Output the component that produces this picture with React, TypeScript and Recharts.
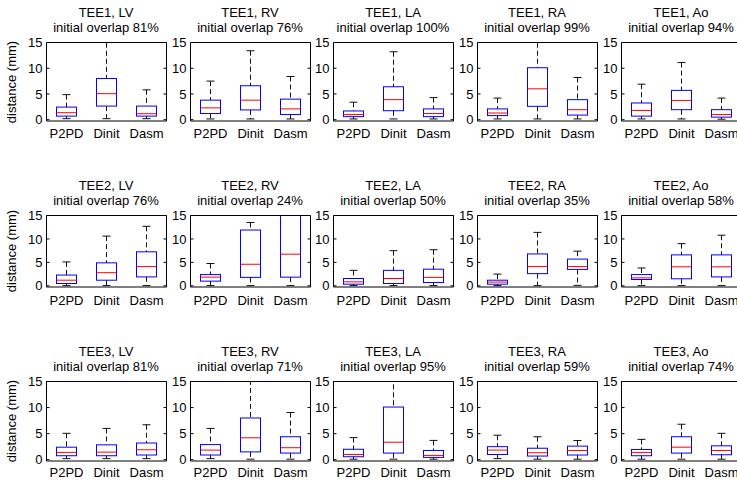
import { ComposedChart, Bar, XAxis, YAxis, ReferenceArea } from "recharts";

const groups = ["P2PD", "Dinit", "Dasm"];
const structures = ["LV", "RV", "LA", "RA", "Ao"];
const datasets = ["TEE1", "TEE2", "TEE3"];

const overlapTEE1 = [81, 76, 100, 99, 94];
const overlapTEE2 = [76, 24, 50, 35, 58];
const overlapTEE3 = [81, 71, 95, 59, 74];

// one box per group: [lower whisker, q1, median, q3, upper whisker] in mm
const boxesTEE1 = [
  [[0.2, 0.7, 1.36, 2.45, 4.87], [0.2, 2.65, 5.06, 8.0, 16.5], [0.2, 0.7, 1.17, 2.65, 5.8]], // LV
  [[0.15, 1.2, 2.3, 3.8, 7.5], [0.15, 1.9, 3.8, 6.6, 13.4], [0.15, 1.0, 2.1, 4.0, 8.4]], // RV
  [[0.15, 0.6, 1.0, 1.7, 3.4], [0.15, 1.75, 3.9, 6.4, 13.2], [0.15, 0.6, 1.2, 2.1, 4.3]], // LA
  [[0.15, 0.8, 1.3, 2.1, 4.2], [0.15, 2.6, 6.0, 10.1, 16.5], [0.15, 0.9, 1.95, 3.9, 8.2]], // RA
  [[0.15, 0.7, 1.8, 3.25, 6.9], [0.15, 1.95, 3.75, 5.7, 11.1], [0.1, 0.5, 1.0, 1.95, 4.2]], // Ao
];
const boxesTEE2 = [
  [[0.05, 0.5, 1.2, 2.3, 5.1], [0.05, 1.2, 2.8, 4.9, 10.6], [0.05, 1.9, 4.1, 7.25, 12.7]],
  [[0.05, 1.0, 1.85, 2.4, 4.76], [0.05, 1.8, 4.6, 11.9, 13.5], [0.05, 1.85, 6.75, 17, 19]],
  [[0.05, 0.35, 0.85, 1.56, 3.3], [0.05, 0.5, 1.56, 3.3, 7.5], [0.05, 0.7, 1.8, 3.55, 7.7]],
  [[0.05, 0.35, 0.8, 1.2, 2.5], [0.05, 2.6, 4.1, 6.8, 11.4], [0.1, 3.5, 4.1, 5.7, 7.4]],
  [[0.05, 1.35, 1.7, 2.4, 3.8], [0.05, 1.5, 4.05, 6.6, 9.0], [0.05, 1.9, 4.05, 6.6, 10.8]],
];
const boxesTEE3 = [
  [[0.2, 0.76, 1.4, 2.4, 5.06], [0.2, 0.76, 1.45, 2.85, 6.0], [0.2, 0.9, 1.9, 3.2, 6.7]],
  [[0.2, 0.9, 1.84, 2.9, 6.0], [0.1, 1.5, 4.2, 8.0, 15.3], [0.1, 1.27, 2.3, 4.4, 9.05]],
  [[0.1, 0.57, 1.0, 2.0, 4.24], [0.1, 1.27, 3.35, 10.1, 16], [0.1, 0.44, 0.82, 1.77, 3.7]],
  [[0.2, 1.0, 1.84, 2.5, 4.7], [0.1, 0.7, 1.33, 2.2, 4.4], [0.1, 0.9, 1.77, 2.6, 3.67]],
  [[0.1, 0.76, 1.4, 1.96, 3.9], [0.1, 1.27, 2.4, 4.4, 6.8], [0.1, 0.95, 1.77, 2.66, 5.06]],
];

const yTicks = [0, 5, 10, 15];
const Y_MIN = -0.25;
const Y_MAX = 15;

const overlaps = [overlapTEE1, overlapTEE2, overlapTEE3];
const boxes = [boxesTEE1, boxesTEE2, boxesTEE3];

// layout
const PANEL_X = [46, 190, 333, 477, 621];
const ROWS = [
  { top: 42, h: 79, gap: 8 },
  { top: 215, h: 72, gap: 9 },
  { top: 381, h: 80, gap: 7 },
];
const PLOT_W = 120;
const AXIS_W = 34;
const TOP_M = 8;
const RIGHT_M = 8;
const X_AXIS_H = 24;
const FONT = '"Liberation Sans", Arial, Helvetica, sans-serif';

function BoxShape(props: any) {
  const { x, y, width, height, payload } = props;
  const { lo, q1, med, q3, hi } = payload;
  const py = (v: number) => y + (height * (hi - v)) / (hi - lo);
  const cx = x + width / 2;
  const cap = 4;
  return (
    <g>
      <line x1={cx} x2={cx} y1={py(hi)} y2={py(q3)} stroke="#111" strokeDasharray="5 3" />
      <line x1={cx} x2={cx} y1={py(q1)} y2={py(lo)} stroke="#111" strokeDasharray="5 3" />
      <line x1={cx - cap} x2={cx + cap} y1={py(hi)} y2={py(hi)} stroke="#111" />
      <line x1={cx - cap} x2={cx + cap} y1={py(lo)} y2={py(lo)} stroke="#111" />
      <rect x={x} y={py(q3)} width={width} height={py(q1) - py(q3)} fill="none" stroke="#0000ff" />
      <line x1={x} x2={x + width} y1={py(med)} y2={py(med)} stroke="#ff0000" />
    </g>
  );
}

function YTick(props: any) {
  const { x, y, payload } = props;
  const left = x + 4;
  return (
    <g>
      <text x={x} y={y} dy="0.355em" textAnchor="end" fontSize={13} fill="#000">
        {payload.value}
      </text>
      <line x1={left} x2={left + 3} y1={y} y2={y} stroke="#000" />
      <line x1={left + PLOT_W - 3} x2={left + PLOT_W} y1={y} y2={y} stroke="#000" />
    </g>
  );
}

function Panel({ left, row, title, overlap, stats }: any) {
  const data = groups.map((g, i) => ({
    group: g,
    lo: stats[i][0],
    q1: stats[i][1],
    med: stats[i][2],
    q3: stats[i][3],
    hi: stats[i][4],
  }));
  return (
    <>
      <div
        style={{
          position: "absolute",
          left: left + PLOT_W / 2 - 90,
          width: 180,
          top: row.top - 37,
          textAlign: "center",
          fontSize: 13,
          lineHeight: "15px",
          whiteSpace: "nowrap",
        }}
      >
        <div>{title}</div>
        <div>initial overlap {overlap}%</div>
      </div>
      <div style={{ position: "absolute", left: left - AXIS_W, top: row.top - TOP_M }}>
        <ComposedChart
          width={AXIS_W + PLOT_W + RIGHT_M}
          height={TOP_M + row.h + X_AXIS_H}
          data={data}
          margin={{ top: TOP_M + 0.5, right: RIGHT_M - 0.5, bottom: 0, left: 0.5 }}
        >
          <XAxis
            dataKey="group"
            height={X_AXIS_H}
            tickLine={false}
            axisLine={false}
            tickSize={0}
            tickMargin={row.gap}
            interval={0}
            tick={{ fill: "#000", fontSize: 13 }}
          />
          <YAxis
            type="number"
            domain={[Y_MIN, Y_MAX]}
            ticks={yTicks}
            interval={0}
            allowDataOverflow
            width={AXIS_W}
            tickLine={false}
            axisLine={false}
            tickSize={0}
            tickMargin={4}
            tick={<YTick />}
          />
          <Bar
            dataKey={(d: any) => [d.lo, d.hi]}
            barSize={20}
            shape={BoxShape}
            isAnimationActive={false}
          />
          <ReferenceArea
            y1={Y_MIN}
            y2={Y_MAX}
            fill="none"
            fillOpacity={0}
            stroke="#000"
            strokeWidth={1}
            ifOverflow="visible"
          />
        </ComposedChart>
      </div>
    </>
  );
}

export default function App() {
  return (
    <div
      style={{
        position: "fixed",
        left: 0,
        top: 0,
        width: 737,
        height: 481,
        overflow: "hidden",
        background: "#fff",
        fontFamily: FONT,
        color: "#000",
      }}
    >
      {datasets.map((ds, r) =>
        structures.map((st, c) => (
          <Panel
            key={ds + st}
            left={PANEL_X[c]}
            row={ROWS[r]}
            title={`${ds}, ${st}`}
            overlap={overlaps[r][c]}
            stats={boxes[r][c]}
          />
        ))
      )}
      {ROWS.map((row, r) => (
        <div
          key={"yl" + r}
          style={{
            position: "absolute",
            left: 12 - 50,
            width: 100,
            top: row.top + row.h / 2 - 9,
            height: 18,
            lineHeight: "18px",
            textAlign: "center",
            fontSize: 13,
            transform: "rotate(-90deg)",
            whiteSpace: "nowrap",
          }}
        >
          distance (mm)
        </div>
      ))}
    </div>
  );
}
